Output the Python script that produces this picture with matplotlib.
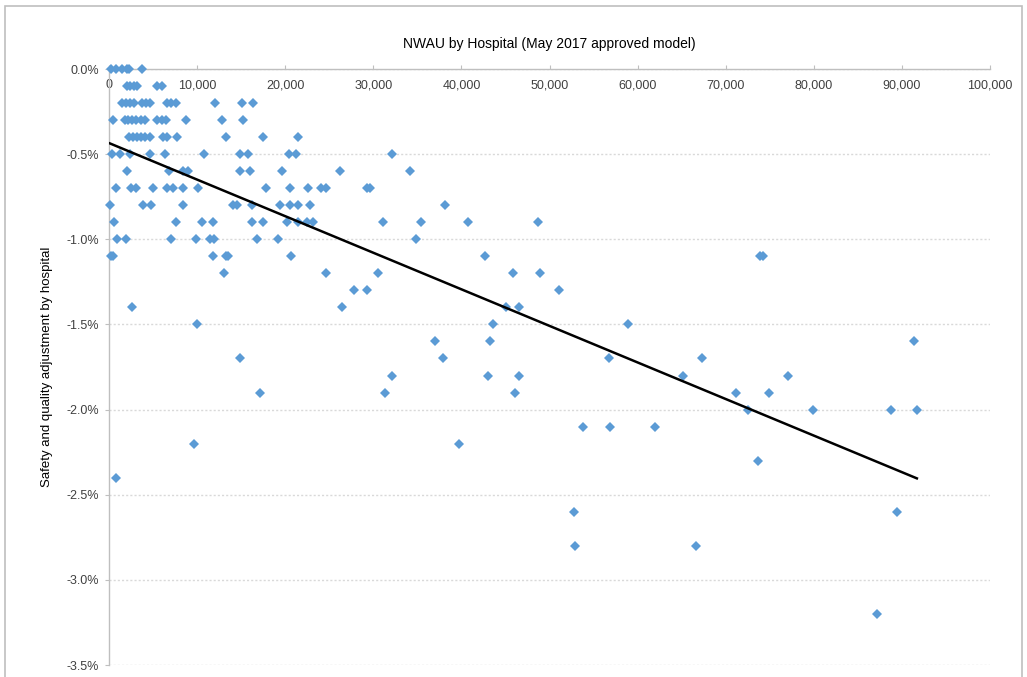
import numpy as np
import matplotlib
matplotlib.use('Agg')
import matplotlib.pyplot as plt
from matplotlib.patches import Rectangle
from matplotlib.ticker import FuncFormatter, MultipleLocator

plt.rcParams['font.family'] = ['Liberation Sans', 'DejaVu Sans']

# NWAU (thousands) grouped by adjustment level (%)
nwau_k = [
    0.2, 0.8, 1.5, 2.0, 2.3, 3.7,                                   # 0.0
    2.0, 2.4, 2.8, 3.2, 5.4, 6.0,                                   # -0.1
    1.5, 1.9, 2.4, 2.8, 3.7, 4.2, 4.7, 6.6, 7.0, 7.6, 12.0, 15.1, 16.3,  # -0.2
    0.4, 1.8, 2.2, 2.6, 3.1, 3.6, 4.1, 5.5, 6.0, 6.5, 8.7, 12.8, 15.2,   # -0.3
    2.3, 2.7, 3.2, 3.6, 4.1, 4.7, 6.1, 6.6, 7.7, 13.3, 17.5, 21.5,       # -0.4
    0.3, 1.2, 2.4, 4.7, 6.4, 10.8, 14.9, 15.8, 20.4, 21.2, 32.1,         # -0.5
    2.0, 6.8, 8.4, 9.0, 14.9, 16.0, 19.6, 26.2, 34.2,                    # -0.6
    0.8, 2.5, 3.1, 5.0, 6.6, 7.3, 8.4, 10.1, 17.8, 20.5, 22.6, 24.1, 24.6, 29.3, 29.6,  # -0.7
    0.1, 3.9, 4.8, 8.4, 14.1, 14.5, 16.2, 19.4, 20.5, 21.5, 22.8, 38.1,  # -0.8
    0.6, 7.6, 10.6, 11.8, 16.2, 17.5, 20.2, 21.5, 22.5, 23.2, 31.1, 35.4, 40.7, 48.7,  # -0.9
    0.9, 1.9, 7.0, 9.9, 11.5, 11.9, 16.8, 19.2, 34.8,                    # -1.0
    0.2, 0.5, 11.8, 13.3, 13.5, 20.7, 42.7, 73.9, 74.2,                  # -1.1
    13.1, 24.6, 30.5, 45.9, 48.9,                                        # -1.2
    27.8, 29.3, 51.1,                                                    # -1.3
    2.6, 26.4, 45.1, 46.5,                                               # -1.4
    10.0, 43.6, 58.9,                                                    # -1.5
    37.0, 43.2, 91.4,                                                    # -1.6
    14.9, 37.9, 56.8, 67.3,                                              # -1.7
    32.1, 43.0, 46.5, 65.2, 77.1,                                        # -1.8
    17.1, 31.3, 46.1, 71.2, 74.9,                                        # -1.9
    72.5, 79.9, 88.8, 91.7,                                              # -2.0
    53.8, 56.9, 62.0,                                                    # -2.1
    9.6, 39.7,                                                           # -2.2
    73.7,                                                                # -2.3
    0.8,                                                                 # -2.4
    52.8, 89.4,                                                          # -2.6
    52.9, 66.6,                                                          # -2.8
    87.2,                                                                # -3.2
]
level_pct = [0.0, -0.1, -0.2, -0.3, -0.4, -0.5, -0.6, -0.7, -0.8, -0.9, -1.0,
             -1.1, -1.2, -1.3, -1.4, -1.5, -1.6, -1.7, -1.8, -1.9, -2.0,
             -2.1, -2.2, -2.3, -2.4, -2.6, -2.8, -3.2]
level_counts = [6, 6, 13, 13, 12, 11, 9, 15, 12, 14, 9,
                9, 5, 3, 4, 3, 3, 4, 5, 5, 4,
                3, 2, 1, 1, 2, 2, 1]

x = np.array(nwau_k) * 1000
y = np.repeat(level_pct, level_counts) / 100.0

fig = plt.figure(figsize=(10.27, 6.77), dpi=100)
fig.patches.append(Rectangle((5 / 1027, -0.05), 1017 / 1027, 1.05 - 6 / 677,
                             transform=fig.transFigure, fill=False,
                             edgecolor='#BFBFBF', linewidth=1.2))

ax = fig.add_axes([109 / 1027, 12 / 677, 881 / 1027, 596 / 677])
ax.set_xlim(0, 100000)
ax.set_ylim(-0.035, 0)

ax.plot(x, y, linestyle='none', marker='D', markersize=5, color='#5B9BD5',
        markeredgewidth=0, clip_on=False, zorder=3)

# linear trendline
k, b = np.polyfit(x, y, 1)
xt = np.array([x.min(), x.max()])
ax.plot(xt, k * xt + b, color='black', linewidth=1.8, zorder=4)

ax.yaxis.set_major_locator(MultipleLocator(0.005))
ax.xaxis.set_major_locator(MultipleLocator(10000))
ax.yaxis.set_major_formatter(FuncFormatter(lambda v, p: f'{v * 100:.1f}%'))
ax.xaxis.set_major_formatter(FuncFormatter(lambda v, p: f'{int(v):,}'))
ax.grid(axis='y', color='#D9D9D9', linestyle=(0, (1.5, 1.5)), linewidth=1)
ax.set_axisbelow(True)

for s in ['right', 'bottom']:
    ax.spines[s].set_visible(False)
for s in ['left', 'top']:
    ax.spines[s].set_color('#BFBFBF')
    ax.spines[s].set_linewidth(1)

ax.tick_params(axis='x', bottom=False, labelbottom=False, top=True, labeltop=True,
               direction='out', length=3, color='#BFBFBF', pad=-19,
               labelsize=9, labelcolor='#404040')
ax.tick_params(axis='y', direction='out', length=3, color='#BFBFBF', pad=4,
               labelsize=9, labelcolor='#404040')

ax.set_ylabel('Safety and quality adjustment by hospital', fontsize=9.5,
              color='#000000', labelpad=10)
fig.text(549 / 1027, 1 - 44 / 677, 'NWAU by Hospital (May 2017 approved model)',
         ha='center', va='center', fontsize=10, color='#000000')

fig.savefig('out.png', dpi=100)
